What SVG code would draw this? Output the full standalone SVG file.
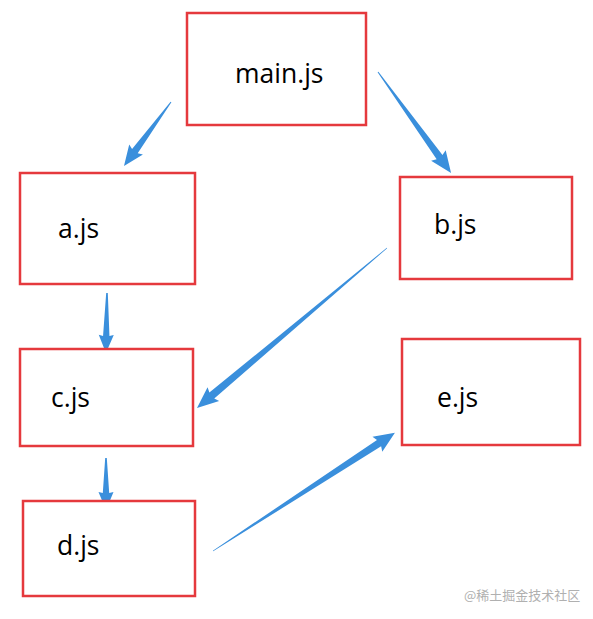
<svg xmlns="http://www.w3.org/2000/svg" width="593" height="619" viewBox="0 0 593 619">
<style>
.box{fill:#fff;stroke:#e5393d;stroke-width:2.5}
.lbl{font-family:"Open Sans","Noto Sans","Liberation Sans",sans-serif;font-size:26.5px;fill:#000}
.arr{fill:#3a8fdc}
.wm{font-family:"Noto Sans CJK SC","Liberation Sans",sans-serif;font-size:13px;fill:#b0b0b0}
</style>
<rect width="593" height="619" fill="#fff"/>
<g id="connectors">
<polygon class="arr" transform="translate(171,102) rotate(126.3)" points="0,-0.5 61,-3.5 59,-8.5 79.4,0 59,8.5 61,3.5 0,0.5"/>
<polygon class="arr" transform="translate(378,72) rotate(54.1)" points="0,-0.5 105,-3.6 103,-9 124.6,0 103,9 105,3.6 0,0.5"/>
<polygon class="arr" transform="translate(387,248) rotate(139.9)" points="0,-0.3 229,-3.8 227,-9 248.4,0 227,9 229,3.8 0,0.3"/>
<polygon class="arr" transform="translate(107,293) rotate(91)" points="0,-0.8 43,-3.2 42,-7.5 60,0 42,7.5 43,3.2 0,0.8"/>
<polygon class="arr" transform="translate(106,458) rotate(90)" points="0,-0.8 35,-3.2 34,-7.5 52,0 34,7.5 35,3.2 0,0.8"/>
<polygon class="arr" transform="translate(213,551) rotate(-33)" points="0,-0.3 198,-3.8 196,-9 216.9,0 196,9 198,3.8 0,0.3"/>
</g>
<g id="main"><rect class="box" x="187" y="13" width="179" height="112"/><text class="lbl" x="235" y="83">main.js</text></g>
<g id="a"><rect class="box" x="20" y="173" width="175" height="111"/><text class="lbl" x="58" y="238">a.js</text></g>
<g id="b"><rect class="box" x="400" y="177" width="172" height="102"/><text class="lbl" x="434" y="234">b.js</text></g>
<g id="c"><rect class="box" x="20" y="349" width="173" height="97"/><text class="lbl" x="51" y="407">c.js</text></g>
<g id="e"><rect class="box" x="402" y="339" width="178" height="106"/><text class="lbl" x="437" y="407">e.js</text></g>
<g id="d"><rect class="box" x="23" y="501" width="172" height="95"/><text class="lbl" x="57" y="555">d.js</text></g>
<text class="wm" x="464" y="600">@稀土掘金技术社区</text>
</svg>
